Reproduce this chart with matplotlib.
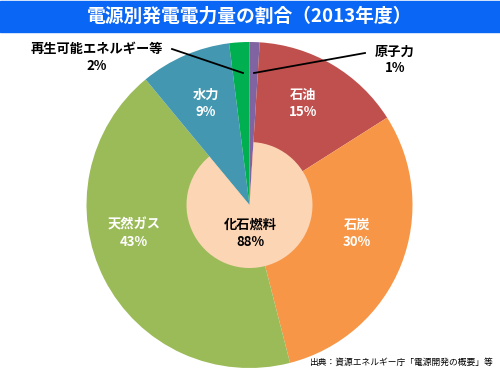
import matplotlib
matplotlib.use("Agg")
import matplotlib.pyplot as plt

plt.rcParams['font.family'] = ['Noto Sans CJK JP', 'DejaVu Sans']

title = "電源別発電電力量の割合（2013年度）"
source = "出典：資源エネルギー庁「電源開発の概要」等"

categories = ["原子力", "石油", "石炭", "天然ガス", "水力", "再生可能エネルギー等"]
values = [1, 15, 30, 43, 9, 2]
colors = ["#8064A2", "#C0504D", "#F79646", "#9BBB59", "#4397B0", "#00B050"]

fossil_label = "化石燃料"
fossil_value = 88
inner_values = [1, 88, 11]
inner_colors = ["none", "#FCD5B5", "none"]

W, H = 500, 380
fig = plt.figure(figsize=(W / 100, H / 100), dpi=100)
ax = fig.add_axes([0, 0, 1, 1])

cx, cy = 249.5, H - 205
R, r_in = 163, 63

ax.pie(values, colors=colors, startangle=90, counterclock=False,
       center=(cx, cy), radius=R, wedgeprops=dict(linewidth=0), frame=True)
ax.pie(inner_values, colors=inner_colors, startangle=90, counterclock=False,
       center=(cx, cy), radius=r_in, wedgeprops=dict(linewidth=0), frame=True)

ax.set_xlim(0, W)
ax.set_ylim(0, H)
ax.set_aspect('equal')
ax.axis('off')

# title bar
ax.add_patch(plt.Rectangle((0, H - 32), W, 31, color="#0A66F5", zorder=5))
ax.text(250, H - 16.5, title, color="white", fontsize=13.5, fontweight="bold",
        ha="center", va="center", zorder=6)

def lab(x, y, name, val, color):
    ax.text(x, H - y, name, ha="center", va="center", fontsize=9.5,
            fontweight="bold", color=color, zorder=7)
    ax.text(x, H - y - 16.5, f"{val}%", ha="center", va="center", fontsize=9.5,
            fontweight="bold", color=color, zorder=7)

lab(395, 52, categories[0], values[0], "black")
lab(303, 95, categories[1], values[1], "white")
lab(357, 225, categories[2], values[2], "white")
lab(134, 225, categories[3], values[3], "white")
lab(206, 95, categories[4], values[4], "white")
lab(97, 49, categories[5], values[5], "black")
lab(250, 225, fossil_label, fossil_value, "black")

ax.plot([254, 365], [H - 73, H - 53], color="black", lw=1.3, zorder=7)
ax.plot([172, 243], [H - 49, H - 73], color="black", lw=1.3, zorder=7)

ax.text(493, H - 362, source, ha="right", va="center", fontsize=6.3,
        color="black", zorder=7)

fig.savefig("out.png", dpi=100)
